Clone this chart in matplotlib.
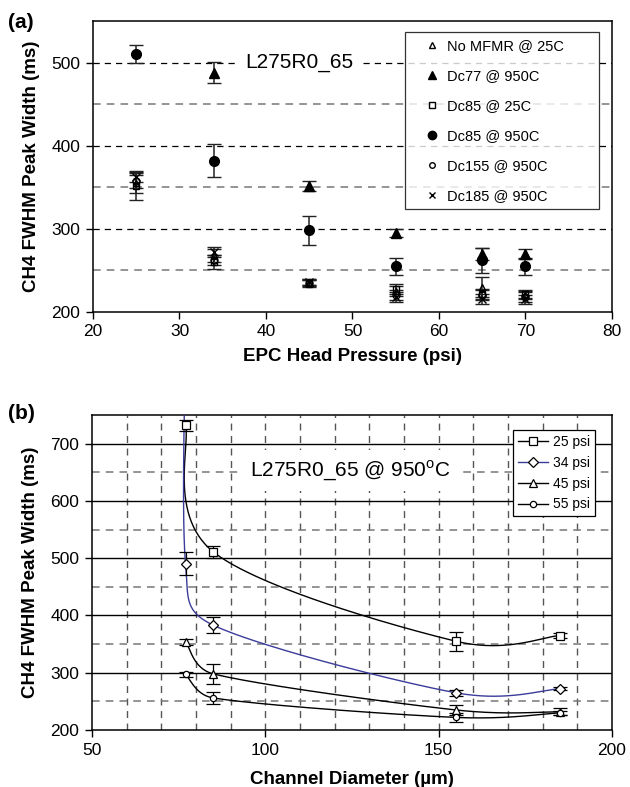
import numpy as np
import matplotlib
matplotlib.use("Agg")
import matplotlib.pyplot as plt
from matplotlib.lines import Line2D

plt.rcParams['font.family'] = ['Liberation Sans', 'DejaVu Sans']
plt.rcParams['mathtext.fontset'] = 'custom'
plt.rcParams['mathtext.rm'] = 'Liberation Sans'

# ---- panel (a): peak width vs head pressure ----
pressure = [25, 34, 45, 55, 65, 70]
no_mfmr_25 = [355, 268, 236, 225, 230, 220]
no_mfmr_25_err = [12, 8, 4, 6, 12, 5]
dc77_950 = [np.nan, 488, 352, 295, 270, 270]
dc77_950_err = [0, 13, 6, 5, 7, 6]
dc85_25 = [352, 260, 234, 228, 222, 222]
dc85_25_err = [17, 8, 4, 6, 6, 5]
dc85_950 = [510, 382, 298, 255, 262, 255]
dc85_950_err = [11, 20, 17, 10, 15, 10]
dc155_950 = [357, 262, 235, 220, 220, 218]
dc155_950_err = [8, 6, 4, 6, 6, 6]
dc185_950 = [362, 272, 236, 218, 216, 215]
dc185_950_err = [6, 6, 4, 6, 6, 5]

# ---- panel (b): peak width vs channel diameter ----
diameter = [77, 85, 155, 185]
psi25 = [732, 511, 355, 365]
psi25_err = [10, 10, 17, 4]
psi34 = [490, 383, 265, 272]
psi34_err = [20, 14, 5, 3]
psi34_offscale = 900  # first point of the 34 psi curve lies above the plot
psi45 = [354, 298, 235, 232]
psi45_err = [5, 17, 8, 6]
psi55 = [297, 256, 222, 230]
psi55_err = [5, 10, 8, 4]


def excel_smooth(ax, xs, ys, n=60):
    # bezier smoothing like a spreadsheet "smoothed line", done in pixel space
    pts = ax.transData.transform(np.column_stack([xs, ys]))
    out = [pts[0]]
    for i in range(len(pts) - 1):
        p0 = pts[i - 1] if i > 0 else pts[i]
        p1, p2 = pts[i], pts[i + 1]
        p3 = pts[i + 2] if i + 2 < len(pts) else pts[i + 1]
        d12 = np.hypot(*(p2 - p1))
        d02 = np.hypot(*(p2 - p0))
        d13 = np.hypot(*(p3 - p1))
        f1 = 1 / 6 if d02 / 6 < d12 / 2 else d12 / 2 / max(d02, 1e-9)
        f2 = 1 / 6 if d13 / 6 < d12 / 2 else d12 / 2 / max(d13, 1e-9)
        c1 = p1 + (p2 - p0) * f1
        c2 = p2 - (p3 - p1) * f2
        t = np.linspace(0, 1, n)[1:, None]
        seg = (1 - t) ** 3 * p1 + 3 * (1 - t) ** 2 * t * c1 + 3 * (1 - t) * t ** 2 * c2 + t ** 3 * p2
        out.extend(seg)
    out = ax.transData.inverted().transform(np.array(out))
    return out[:, 0], out[:, 1]


fig = plt.figure(figsize=(6.3, 7.87), dpi=100)

# ================= (a) =================
ax1 = fig.add_axes([0.1476, 0.6036, 0.8238, 0.3697])
ax1.set_xlim(20, 80)
ax1.set_ylim(200, 550)
for y in [250, 350, 450]:
    ax1.axhline(y, color='#777777', lw=1.1, ls=(0, (5, 4)), zorder=0)
for y in [300, 400, 500]:
    ax1.axhline(y, color='black', lw=0.9, ls=(0, (5, 4)), zorder=0)

series_a = [
    (no_mfmr_25, no_mfmr_25_err, '^', 'none', 'No MFMR @ 25C', 5),
    (dc77_950, dc77_950_err, '^', 'black', 'Dc77 @ 950C', 7),
    (dc85_25, dc85_25_err, 's', 'none', 'Dc85 @ 25C', 5),
    (dc85_950, dc85_950_err, 'o', 'black', 'Dc85 @ 950C', 7),
    (dc155_950, dc155_950_err, 'o', 'none', 'Dc155 @ 950C', 5),
    (dc185_950, dc185_950_err, 'x', 'black', 'Dc185 @ 950C', 6),
]
handles = []
for vals, err, mk, fc, lab, ms in series_a:
    ax1.errorbar(pressure, vals, yerr=err, fmt=mk, ms=ms, mfc=fc, mec='black',
                 mew=1.0, ecolor='#222222', elinewidth=1.1, capsize=5, capthick=1.1, zorder=3)
    handles.append(Line2D([], [], ls='none', marker=mk, ms=ms - 1, mfc=fc, mec='black', mew=1.0))

leg1 = ax1.legend(handles, [s[4] for s in series_a], loc='upper left',
                  bbox_to_anchor=(0.601, 0.962, 0.374, 0.0), mode='expand',
                  fontsize=10.5, frameon=True, fancybox=False,
                  edgecolor='black', labelspacing=1.1, handlelength=2.8, handletextpad=-0.35,
                  borderpad=0.45, borderaxespad=0)
leg1.get_frame().set_linewidth(0.9)

ax1.text(37.6, 500, 'L275R0_65', fontsize=15, va='center', ha='left',
         bbox=dict(facecolor='white', edgecolor='none', pad=6), zorder=2)

ax1.set_xticks([20, 30, 40, 50, 60, 70, 80])
ax1.set_yticks([200, 300, 400, 500])
ax1.tick_params(direction='out', length=5, width=1.0, labelsize=12.5, pad=4)
ax1.set_xlabel('EPC Head Pressure (psi)', fontsize=13.5, fontweight='bold', labelpad=6)
ax1.set_ylabel('CH4 FWHM Peak Width (ms)', fontsize=13.5, fontweight='bold', labelpad=8)
for sp in ax1.spines.values():
    sp.set_linewidth(1.1)

# ================= (b) =================
ax2 = fig.add_axes([0.146, 0.0724, 0.8254, 0.4003])
ax2.set_xlim(50, 200)
ax2.set_ylim(200, 750)
for x in range(60, 200, 10):
    ax2.axvline(x, color='#555555', lw=1.0, ls=(0, (5, 4)), zorder=0)
for y in [250, 350, 450, 550, 650]:
    ax2.axhline(y, color='#777777', lw=1.1, ls=(0, (5, 4)), zorder=0)
for y in [300, 400, 500, 600, 700]:
    ax2.axhline(y, color='black', lw=1.0, zorder=0)

blue = '#3b3b9b'
series_b = [
    (psi25, psi25_err, 's', 'black', '25 psi', 6, None),
    (psi34, psi34_err, 'D', blue, '34 psi', 5, psi34_offscale),
    (psi45, psi45_err, '^', 'black', '45 psi', 6, None),
    (psi55, psi55_err, 'o', 'black', '55 psi', 4.5, None),
]
handles2 = []
for vals, err, mk, col, lab, ms, lead in series_b:
    xs, ys = list(diameter), list(vals)
    if lead is not None:
        xs, ys = [diameter[0]] + xs, [lead] + ys
    sx, sy = excel_smooth(ax2, xs, ys)
    ax2.plot(sx, sy, color=col, lw=1.0, zorder=3)
    ax2.errorbar(diameter, vals, yerr=err, fmt=mk, ms=ms, mfc='white', mec='black',
                 mew=0.9, ecolor='black', elinewidth=0.9, capsize=5, capthick=0.9, zorder=4)
    handles2.append(Line2D([], [], color=col, lw=1.0, marker=mk, ms=ms, mfc='white',
                           mec='black', mew=0.9))

leg2 = ax2.legend(handles2, [s[4] for s in series_b], loc='upper left',
                  bbox_to_anchor=(0.81, 0.953), fontsize=10, frameon=True, fancybox=False,
                  edgecolor='black', labelspacing=0.5, handlelength=2.15, handletextpad=0.35,
                  borderpad=0.35, borderaxespad=0, framealpha=1)
leg2.get_frame().set_linewidth(0.9)

ax2.text(95.6, 653, 'L275R0_65 @ 950$^{\\rm o}$C', fontsize=15, va='center', ha='left',
         bbox=dict(facecolor='white', edgecolor='none', pad=6), zorder=2)

ax2.set_xticks([50, 100, 150, 200])
ax2.set_yticks([200, 300, 400, 500, 600, 700])
ax2.tick_params(direction='out', length=5, width=1.0, labelsize=12.5, pad=4)
ax2.set_xlabel('Channel Diameter (µm)', fontsize=13.5, fontweight='bold', labelpad=10)
ax2.set_ylabel('CH4 FWHM Peak Width (ms)', fontsize=13.5, fontweight='bold', labelpad=8)
for sp in ax2.spines.values():
    sp.set_linewidth(1.1)

fig.text(0.012, 0.972, '(a)', fontsize=15, fontweight='bold', va='center')
fig.text(0.012, 0.475, '(b)', fontsize=15, fontweight='bold', va='center')

fig.savefig('out.png', dpi=100)
